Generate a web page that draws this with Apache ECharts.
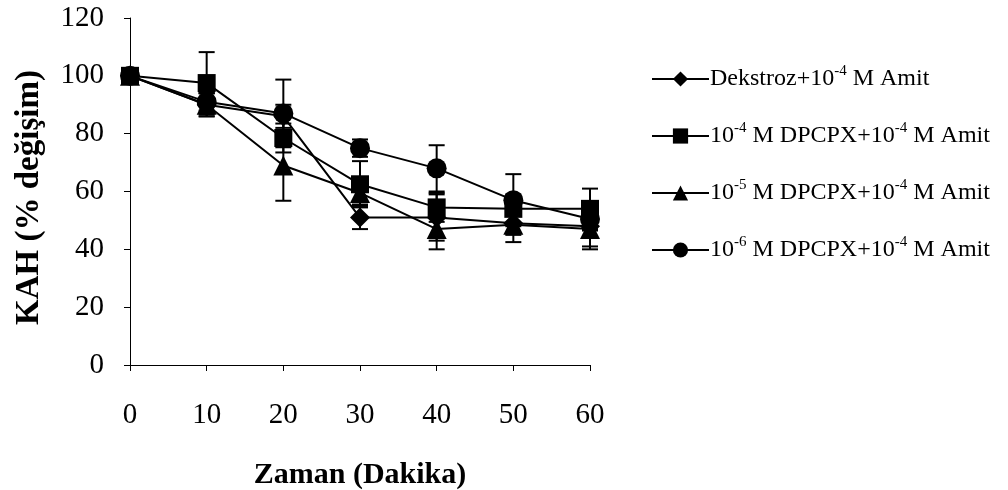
<!DOCTYPE html>
<html>
<head>
<meta charset="utf-8">
<script src="https://cdn.jsdelivr.net/npm/echarts@6/dist/echarts.min.js"></script>
<style>
  html, body { margin: 0; padding: 0; background: #fff; }
  #chart { width: 1008px; height: 490px; }
</style>
</head>
<body>
<div id="chart"></div>
<script>
// zaman (dakika)
var minutes = [0, 10, 20, 30, 40, 50, 60];

// ortalama degerler (% degisim)
var dekstroz = [100, 90, 86, 51, 51, 49, 48];
var dpcpx4 = [100, 97.5, 78.5, 62.5, 54.5, 54, 54];
var dpcpx5 = [100, 90, 69, 59.5, 47, 48.5, 47];
var dpcpx6 = [100, 91, 87, 75, 68, 57, 50.5];

// hata cubuklari
var dekstrozErr = [0, 4, 4, 4, 8, 4, 7];
var dpcpx4Err = [0, 10.7, 5, 8, 5, 5, 7];
var dpcpx5Err = [0, 4, 12.2, 4, 7, 6, 7];
var dpcpx6Err = [0, 3, 11.7, 3, 8, 9, 4];

var yTicks = [0, 20, 40, 60, 80, 100, 120];

var names = ['dekstroz', 'dpcpx4', 'dpcpx5', 'dpcpx6'];
var legendText = {
    dekstroz: 'Dekstroz+10{sup|-4} M Amit',
    dpcpx4: '10{sup|-4} M DPCPX+10{sup|-4} M Amit',
    dpcpx5: '10{sup|-5} M DPCPX+10{sup|-4} M Amit',
    dpcpx6: '10{sup|-6} M DPCPX+10{sup|-4} M Amit'
};
var values = [dekstroz, dpcpx4, dpcpx5, dpcpx6];
var errors = [dekstrozErr, dpcpx4Err, dpcpx5Err, dpcpx6Err];
var symbols = ['diamond', 'rect', 'triangle', 'circle'];
var sizes = [20, 18, 20, 20];

var font = 'Liberation Serif';

function errorBars(vals, errs) {
    var out = [];
    for (var i = 0; i < vals.length; i++) {
        if (errs[i] > 0) out.push([minutes[i], vals[i], errs[i]]);
    }
    return out;
}

function renderError(params, api) {
    var x = api.value(0), y = api.value(1), e = api.value(2);
    var top = api.coord([x, y + e]);
    var bot = api.coord([x, y - e]);
    var w = 8;
    var st = { stroke: '#000', lineWidth: 2 };
    return {
        type: 'group',
        children: [
            { type: 'line', shape: { x1: top[0], y1: top[1], x2: bot[0], y2: bot[1] }, style: st },
            { type: 'line', shape: { x1: top[0] - w, y1: top[1], x2: top[0] + w, y2: top[1] }, style: st },
            { type: 'line', shape: { x1: bot[0] - w, y1: bot[1], x2: bot[0] + w, y2: bot[1] }, style: st }
        ]
    };
}

var series = [];
for (var k = 0; k < names.length; k++) {
    series.push({
        name: names[k] + '_err',
        type: 'custom',
        renderItem: renderError,
        data: errorBars(values[k], errors[k]),
        z: 1,
        silent: true
    });
}
for (var k = 0; k < names.length; k++) {
    series.push({
        name: names[k],
        type: 'line',
        symbol: symbols[k],
        symbolSize: sizes[k],
        showSymbol: true,
        data: minutes.map(function (m, i) { return [m, values[k][i]]; }),
        itemStyle: { color: '#000' },
        lineStyle: { color: '#000', width: 2 },
        z: 2 + k,
        animation: false
    });
}

var chart = echarts.init(document.getElementById('chart'));
chart.setOption({
    animation: false,
    backgroundColor: '#fff',
    textStyle: { fontFamily: font, color: '#000' },
    grid: { left: 130, right: 418, top: 18, bottom: 125, containLabel: false, outerBoundsMode: 'none' },
    legend: {
        data: names,
        orient: 'vertical',
        left: 646,
        top: 59,
        itemWidth: 57,
        itemHeight: 19,
        itemGap: 27,
        formatter: function (n) { return legendText[n]; },
        textStyle: {
            fontFamily: font,
            fontSize: 24,
            color: '#000',
            lineHeight: 30,
            padding: [0, 0, 0, -4],
            rich: {
                sup: { fontFamily: font, fontSize: 15, lineHeight: 14, verticalAlign: 'top' }
            }
        }
    },
    xAxis: {
        type: 'value',
        min: 0,
        max: 60,
        interval: 10,
        name: 'Zaman (Dakika)',
        nameLocation: 'middle',
        nameGap: 95,
        nameTextStyle: { fontFamily: font, fontSize: 30, fontWeight: 'bold', color: '#000' },
        axisLine: { onZero: false, lineStyle: { color: '#000', width: 1 } },
        axisTick: { show: true, inside: false, length: 6, lineStyle: { color: '#000' } },
        axisLabel: { fontFamily: font, fontSize: 29, color: '#000', margin: 36 },
        splitLine: { show: false }
    },
    yAxis: {
        type: 'value',
        min: yTicks[0],
        max: yTicks[yTicks.length - 1],
        interval: 20,
        name: 'KAH (% değişim)',
        nameLocation: 'middle',
        nameGap: 84,
        nameRotate: 90,
        nameTextStyle: { fontFamily: font, fontSize: 33, fontWeight: 'bold', color: '#000', padding: [0, 0, 0, -12] },
        axisLine: { show: true, lineStyle: { color: '#000', width: 1 } },
        axisTick: { show: true, inside: false, length: 6, lineStyle: { color: '#000' } },
        axisLabel: { fontFamily: font, fontSize: 29, color: '#000', margin: 26 },
        splitLine: { show: false }
    },
    series: series
});
</script>
</body>
</html>
